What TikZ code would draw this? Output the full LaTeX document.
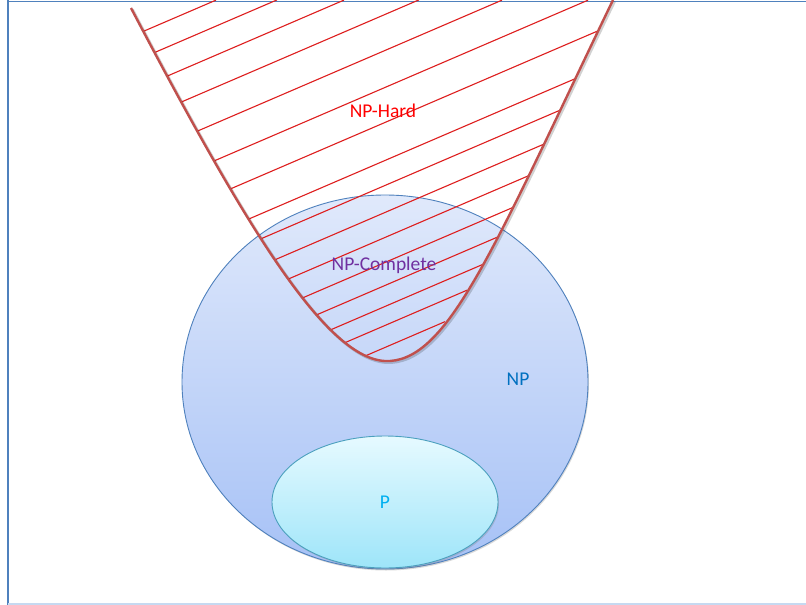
\documentclass[tikz,border=0pt]{standalone}
\usepackage{fontspec}
\setmainfont{Carlito}
\usepackage{tikz}
\usetikzlibrary{shapes.geometric,shadows}
\definecolor{frameblue} {RGB}{ 79,129,189}
\definecolor{framelight}{RGB}{198,217,241}
\definecolor{nptop}     {RGB}{224,233,251}
\definecolor{npbot}     {RGB}{166,193,246}
\definecolor{npedge}    {RGB}{ 79,129,189}
\definecolor{ptop}      {RGB}{230,250,255}
\definecolor{pbot}      {RGB}{158,229,249}
\definecolor{pedge}     {RGB}{ 75,160,190}
\definecolor{hardline}  {RGB}{192, 80, 77}
\definecolor{hatchred}  {RGB}{222, 30, 30}
\definecolor{txthard}   {RGB}{255,  0,  0}
\definecolor{txtcomp}   {RGB}{112, 48,160}
\definecolor{txtnp}     {RGB}{  0,112,192}
\definecolor{txtp}      {RGB}{  0,176,240}
\newcommand\setfont{\fontsize{19.5}{23}\selectfont}
% outline of the NP-hard region
\newcommand\hardpath{(131,8) .. controls (250,235) and (330,365) .. (390,361)
  .. controls (450,357) and (495,245) .. (613,0)}
\tikzset{
  setbox/.style={ellipse,inner sep=0pt,line width=0.9pt,
                 drop shadow={shadow xshift=1pt,shadow yshift=-1.5pt,
                 opacity=0.3}},
  npset/.style={setbox,draw=npedge,top color=nptop,bottom color=npbot,
                minimum width=406pt,minimum height=374pt},
  pset/.style={setbox,draw=pedge,top color=ptop,bottom color=pbot,
               minimum width=226pt,minimum height=132pt,
               font=\setfont,text=txtp},
  hardedge/.style={draw=hardline,line width=2.4pt},
  hardshadow/.style={draw=black,opacity=0.18,line width=2.8pt,
                     shift={(1.5,1.5)}},
  hatchline/.style={draw=hatchred,line width=1.1pt},
  setlbl/.style={font=\setfont,inner sep=1pt},
  frameline/.style={draw=frameblue,line width=2pt},
}
\begin{document}
\begin{tikzpicture}[x=1pt,y=-1pt]
\useasboundingbox (0,0) rectangle (806,605);
\fill[white] (0,0) rectangle (806,605);
% frame
\draw[frameline] (8,0) -- (8,605);
\draw[frameline,line width=1.5pt] (8,1.5) -- (806,1.5);
\draw[frameline,draw=framelight,line width=1.5pt] (8,604) -- (806,604);
% NP
\node[npset] (np) at (385,382) {};
% hatching of NP-hard
\begin{scope}
  \clip \hardpath -- (613,-10) -- (131,-10) -- cycle;
  \foreach \c/\xl/\xr in {93/145/216,119/157/277,148/170/344,180/183/419,
      216/197/502,253/214/588,288/228/602,326/247/582,351/258/568,
      378/272/550,403/285/534,428/303/523,451/317/505,472/328/486,
      491/347/467,513/367/445}
    \draw[hatchline] (\xl-15,{\c-0.43*(\xl-15)}) -- (\xr,{\c-0.43*\xr});
\end{scope}
\draw[hardshadow] \hardpath;
\draw[hardedge] \hardpath;
\coordinate (vertex) at (390,361);
% P
\node[pset] (p) at (385,502) {P};
% labels
\node[setlbl,text=txthard] (nphard) at (383,111) {NP-Hard};
\node[setlbl,text=txtcomp] (npcomplete) at (384,265) {NP-Complete};
\node[setlbl,text=txtnp] (nplabel) at (518,379) {NP};
\end{tikzpicture}
\end{document}
